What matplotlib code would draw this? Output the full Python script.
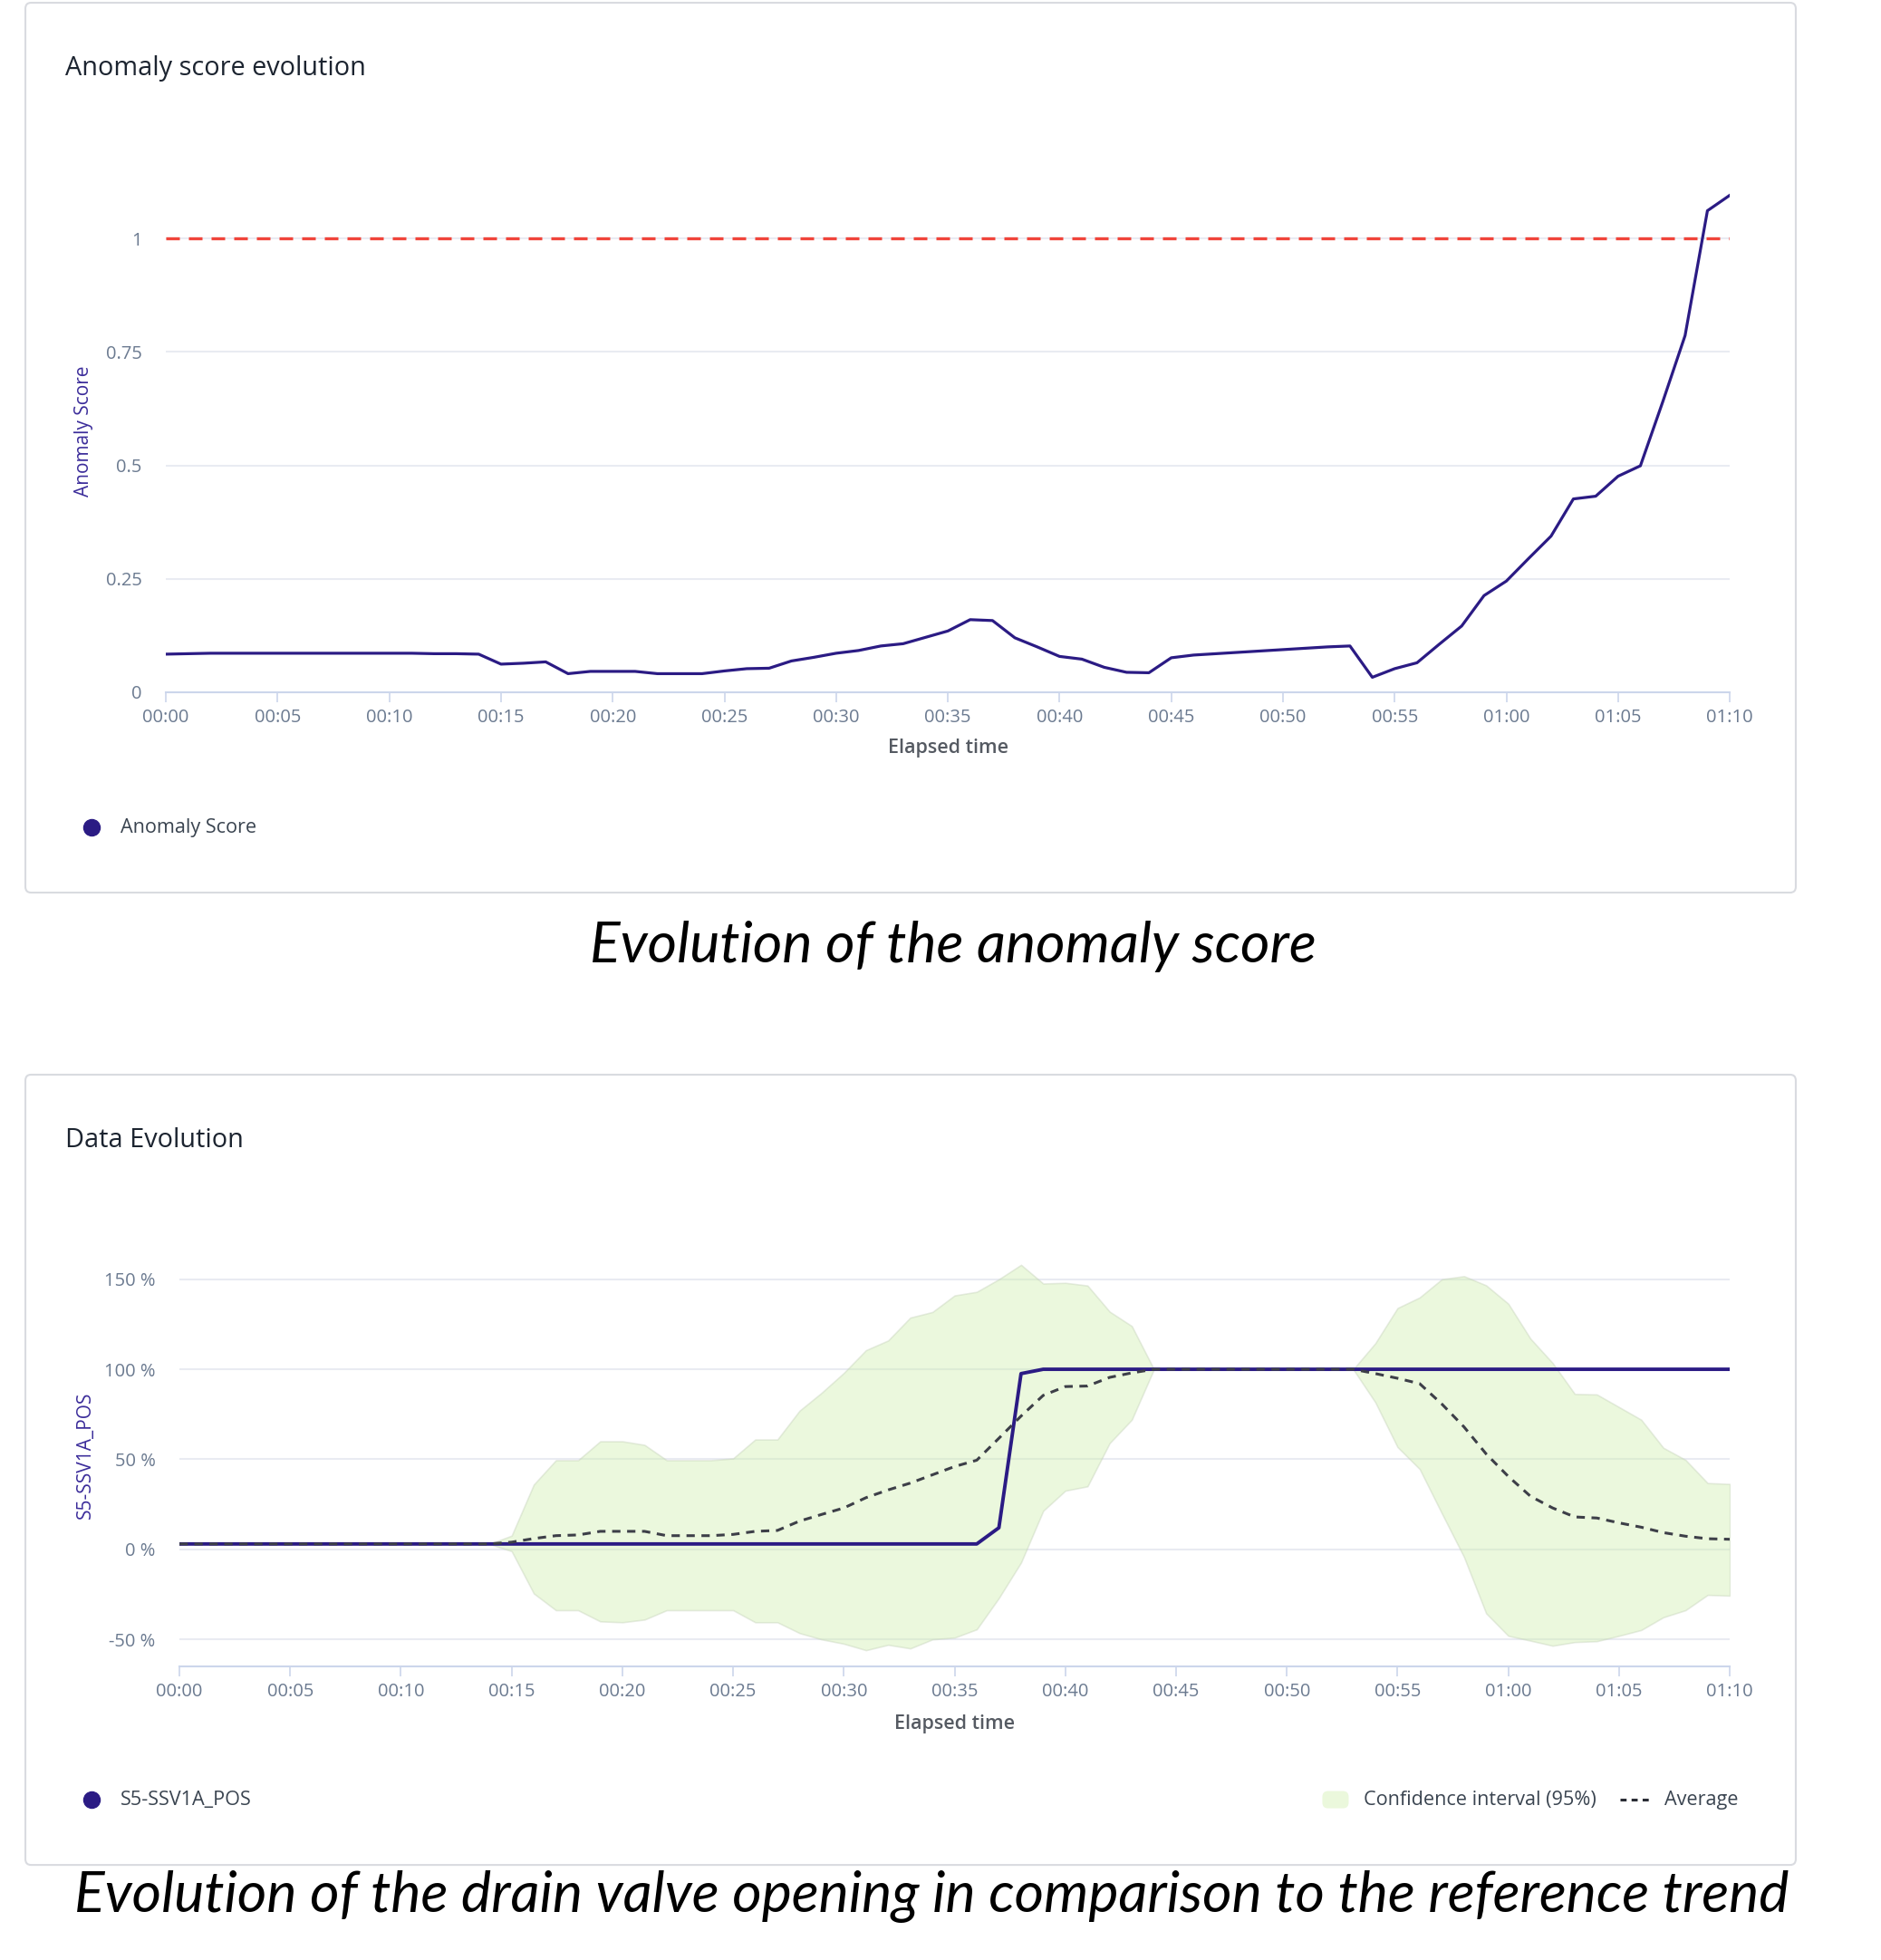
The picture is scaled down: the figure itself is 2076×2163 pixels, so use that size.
import matplotlib
matplotlib.use("Agg")
import matplotlib.pyplot as plt
from matplotlib.patches import FancyBboxPatch
from matplotlib.lines import Line2D

plt.rcParams['font.family'] = ['Open Sans', 'DejaVu Sans']

# --- data (one value per minute, 00:00 .. 01:10) ---
minutes = list(range(0, 71))

anomaly_score = [
    0.084, 0.085, 0.086, 0.086, 0.086, 0.086, 0.086, 0.086, 0.086, 0.086,
    0.086, 0.086, 0.085, 0.085, 0.084, 0.062, 0.064, 0.067, 0.041, 0.046,
    0.046, 0.046, 0.041, 0.041, 0.041, 0.047, 0.052, 0.053, 0.069, 0.077,
    0.086, 0.092, 0.102, 0.107, 0.121, 0.135, 0.160, 0.158, 0.120, 0.100,
    0.079, 0.073, 0.055, 0.044, 0.043, 0.076, 0.082, 0.085, 0.088, 0.091,
    0.094, 0.097, 0.100, 0.102, 0.033, 0.052, 0.065, 0.106, 0.146, 0.213,
    0.245, 0.295, 0.344, 0.426, 0.432, 0.476, 0.499, 0.640, 0.786, 1.061,
    1.095,
]
threshold = 1.0

valve_pos = [3] * 37 + [12, 97.6] + [100] * 32

ci_upper = [
    3, 3, 3, 3, 3, 3, 3, 3, 3, 3,
    3, 3, 3, 3, 3, 7.6, 36, 49.5, 49.5, 60,
    60, 58, 49.5, 49.5, 49.5, 50.5, 61, 61, 77, 87,
    98, 110.6, 116, 128.7, 131.8, 141, 143, 150, 158, 147.6,
    148, 146.5, 132, 124, 100, 100, 100, 100, 100, 100,
    100, 100, 100, 100, 114.5, 134, 139.9, 150, 151.7, 146.6,
    136.4, 117, 103.5, 86.3, 86, 79, 72, 56.4, 49.7, 36.8,
    36.3,
]
ci_lower = [
    3, 3, 3, 3, 3, 3, 3, 3, 3, 3,
    3, 3, 3, 3, 3, -1, -24.5, -33.8, -33.8, -40,
    -40.5, -39, -33.8, -33.8, -33.8, -33.8, -40.5, -40.5, -46.5, -50,
    -52.4, -56, -53, -55, -50, -49, -44.4, -27, -7.3, 21.4,
    32.6, 35, 59, 72, 100, 100, 100, 100, 100, 100,
    100, 100, 100, 100, 81.6, 56.8, 44.6, 20, -4.2, -35.5,
    -48, -50.7, -53.5, -51.5, -51, -48, -44.8, -37.7, -33.8, -25.3,
    -25.7,
]
ci_average = [
    3, 3, 3, 3, 3, 3, 3, 3, 3, 3,
    3, 3, 3, 3, 3, 4, 6, 7.6, 8, 10,
    10, 10, 7.6, 7.6, 7.6, 8.3, 10, 10.5, 15.7, 19.4,
    23, 28.7, 33, 36.8, 41.4, 46, 49.5, 61.7, 74, 85.5,
    90.4, 90.7, 95.5, 98, 100, 100, 100, 100, 100, 100,
    100, 100, 100, 100, 97.6, 95, 92, 80.7, 68, 53,
    40.5, 29.5, 23, 18, 17.4, 14.7, 12.3, 9.3, 7.3, 5.9,
    5.6,
]

x_ticks = list(range(0, 71, 5))
x_tick_labels = ['00:00', '00:05', '00:10', '00:15', '00:20', '00:25', '00:30',
                 '00:35', '00:40', '00:45', '00:50', '00:55', '01:00', '01:05', '01:10']
score_ticks = [0, 0.25, 0.5, 0.75, 1]
score_tick_labels = ['0', '0.25', '0.5', '0.75', '1']
pos_ticks = [-50, 0, 50, 100, 150]
pos_tick_labels = ['-50 %', '0 %', '50 %', '100 %', '150 %']

# --- colours ---
LINE = '#2b1b84'
TICK = '#6b7a90'
GRID = '#e9ebf2'
AXIS = '#ccd6eb'
TITLE = '#1c2430'
LEGEND_TXT = '#3a4450'

fig = plt.figure(figsize=(20.76, 21.63), dpi=100)

# panel frames (behind the axes)
for (y0, h) in [(0.5446, 0.454), (0.0485, 0.4032)]:
    fig.patches.append(FancyBboxPatch((0.0135, y0), 0.9412, h, transform=fig.transFigure,
                                      boxstyle='round,pad=0,rounding_size=0.003',
                                      facecolor='white', edgecolor='#d9dbe0',
                                      linewidth=1.5, zorder=-10))


def style_axes(ax, xlabel_y):
    ax.patch.set_alpha(0)
    for s in ['top', 'right', 'left']:
        ax.spines[s].set_visible(False)
    ax.spines['bottom'].set_color(AXIS)
    ax.spines['bottom'].set_linewidth(1.5)
    ax.set_xlim(0, 70)
    ax.set_xticks(x_ticks)
    ax.set_xticklabels(x_tick_labels)
    ax.tick_params(axis='x', colors=AXIS, labelcolor=TICK, length=8, width=1.2,
                   labelsize=14.5, pad=5)
    ax.tick_params(axis='y', length=0, labelcolor=TICK, labelsize=14.5, pad=19)
    ax.grid(axis='y', color=GRID, linewidth=1.5)
    ax.set_axisbelow(True)
    ax.set_xlabel('Elapsed time', color='#555a62', fontsize=15.5, fontweight='semibold',
                  va='center')
    ax.xaxis.set_label_coords(0.5, xlabel_y)


# ---------- top: anomaly score ----------
ax1 = fig.add_axes([0.0882, 0.6468, 0.8314, 0.2663])
ax1.set_ylim(0, 1.15)
ax1.set_yticks(score_ticks)
ax1.set_yticklabels(score_tick_labels)
style_axes(ax1, -0.1076)
ax1.axhline(threshold, color='#f0443a', linewidth=2.4, dashes=(4.5, 3), zorder=2)
ax1.plot(minutes, anomaly_score, color=LINE, linewidth=2.3, zorder=3)
ax1.set_ylabel('Anomaly Score', color='#3b2c9a', fontsize=15)
ax1.yaxis.set_label_coords(-0.0463, 0.5)

fig.text(0.0347, 0.9653, 'Anomaly score evolution', fontsize=20.8, fontweight='medium',
         color=TITLE, va='center')
fig.add_artist(Line2D([0.0487], [0.5779], marker='o', markersize=13, color=LINE,
                      linestyle='none', transform=fig.transFigure))
fig.text(0.0641, 0.5779, 'Anomaly Score', fontsize=15.6, color=LEGEND_TXT, va='center')
fig.text(0.5067, 0.5169, 'Evolution of the anomaly score', fontsize=45, style='italic',
         family=['Lato', 'DejaVu Sans'], color='black', ha='center', va='center')

# ---------- bottom: data evolution ----------
ax2 = fig.add_axes([0.0954, 0.1498, 0.8242, 0.2159])
ax2.set_ylim(-65, 170)
ax2.set_yticks(pos_ticks)
ax2.set_yticklabels(pos_tick_labels)
style_axes(ax2, -0.135)
ax2.fill_between(minutes, ci_lower, ci_upper, facecolor='#cdeeaa', alpha=0.4,
                 edgecolor='#c3d0b8', linewidth=1.2, zorder=1)
ax2.plot(minutes, valve_pos, color=LINE, linewidth=2.8, zorder=3)
ax2.plot(minutes, ci_average, color='#3d3f48', linewidth=2.2, dashes=(3, 2.4), zorder=4)
ax2.set_ylabel('S5-SSV1A_POS', color='#3b2c9a', fontsize=15)
ax2.yaxis.set_label_coords(-0.0544, 0.5)

fig.text(0.0347, 0.4184, 'Data Evolution', fontsize=20.8, fontweight='medium',
         color=TITLE, va='center')
fig.add_artist(Line2D([0.0487], [0.0818], marker='o', markersize=13, color=LINE,
                      linestyle='none', transform=fig.transFigure))
fig.text(0.0641, 0.0818, 'S5-SSV1A_POS', fontsize=15.6, color=LEGEND_TXT, va='center')
fig.patches.append(FancyBboxPatch((0.7030, 0.0774), 0.014, 0.0088, transform=fig.transFigure,
                                  boxstyle='round,pad=0,rounding_size=0.003',
                                  facecolor='#ebf8dc', edgecolor='none'))
fig.text(0.7250, 0.0818, 'Confidence interval (95%)', fontsize=15.6, color=LEGEND_TXT,
         va='center')
fig.add_artist(Line2D([0.8615, 0.8788], [0.0818, 0.0818], color='#2a2d35', linewidth=2.2,
                      dashes=(2.2, 1.8), transform=fig.transFigure))
fig.text(0.8850, 0.0818, 'Average', fontsize=15.6, color=LEGEND_TXT, va='center')
fig.text(0.4952, 0.0324, 'Evolution of the drain valve opening in comparison to the reference trend',
         fontsize=45, style='italic', family=['Lato', 'DejaVu Sans'], color='black',
         ha='center', va='center')

fig.savefig('out.png', dpi=100)
